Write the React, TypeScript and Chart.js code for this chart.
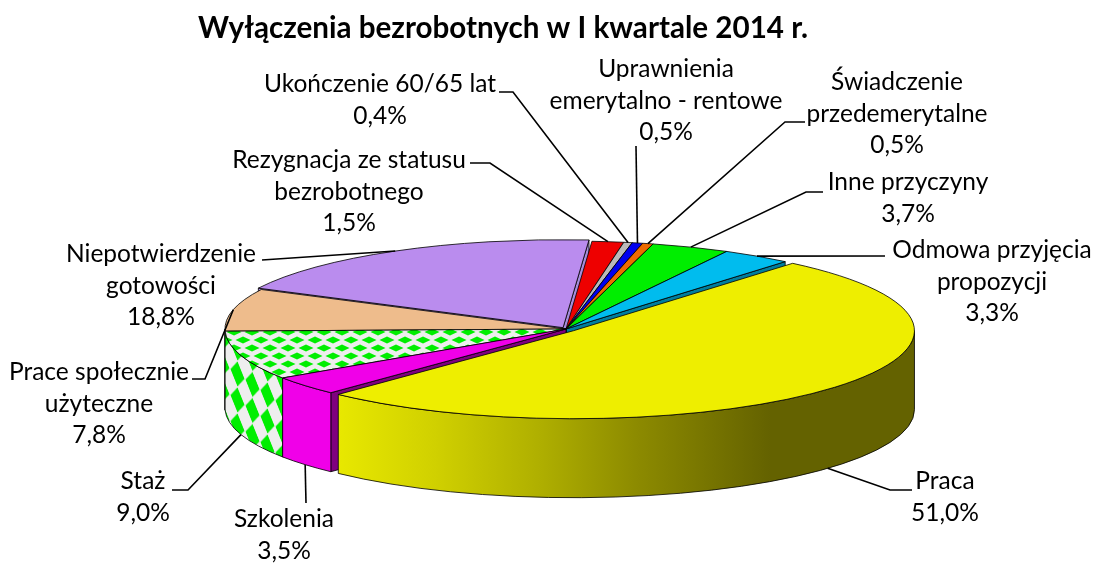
import React, { useEffect, useRef } from "react";
import { Chart, registerables } from "chart.js";

Chart.register(...registerables);

const TITLE = "Wyłączenia bezrobotnych w I kwartale 2014 r.";
const categories: string[][] = [
  ["Praca"],
  ["Szkolenia"],
  ["Staż"],
  ["Prace społecznie", "użyteczne"],
  ["Niepotwierdzenie", "gotowości"],
  ["Rezygnacja ze statusu", "bezrobotnego"],
  ["Ukończenie 60/65 lat"],
  ["Uprawnienia", "emerytalno - rentowe"],
  ["Świadczenie", "przedemerytalne"],
  ["Inne przyczyny"],
  ["Odmowa przyjęcia", "propozycji"],
];
const values = [51.0, 3.5, 9.0, 7.8, 18.8, 1.5, 0.4, 0.5, 0.5, 3.7, 3.3];
const explode = [10, 0, 0, 0, 6, 0, 0, 0, 0, 0, 0];

const topColors: (string | null)[] = [
  "#EEEE00", "#F000E8", null, "#EEBC8C", "#BA8CEE", "#EE0000",
  "#BABABA", "#0000EE", "#EE6A00", "#00EE00", "#00BCEE",
];
const faceColors = [
  "#7F7F00", "#7F007F", "#888888", "#9C7044", "#A68CDC", "#8F0000",
  "#777777", "#00008F", "#8F4000", "#008F00", "#007E9E",
];

// Label layout: text centre x, first line centre y, then the elbow of the leader line (outer point, inner point).
const labelLayout = [
  { cx: 945, y: 481, from: [912, 490], elbow: [890, 490] },
  { cx: 284, y: 519, from: [306, 503], elbow: [306, 503] },
  { cx: 143, y: 481, from: [172, 490], elbow: [188, 490] },
  { cx: 99, y: 372, from: [192, 379], elbow: [205, 379] },
  { cx: 161, y: 254, from: [262, 260], elbow: [262, 260] },
  { cx: 349, y: 160, from: [470, 163], elbow: [490, 163] },
  { cx: 380, y: 84, from: [499, 92], elbow: [513, 92] },
  { cx: 666, y: 69, from: [636, 146], elbow: [636, 146] },
  { cx: 897, y: 82, from: [805, 122], elbow: [785, 122] },
  { cx: 908, y: 182, from: [823, 192], elbow: [806, 192] },
  { cx: 992, y: 250, from: [885, 256], elbow: [885, 256] },
];

const W = 1097;
const H = 563;
const RADIUS = 341;
const TILT = 0.258;
const DEPTH = 79;
const LINE_H = 31.6;
const FONT = "Lato, 'Open Sans', sans-serif";

function tilePattern(w: number, h: number, hw: number, hh: number, pts: number[][]) {
  const c = document.createElement("canvas");
  c.width = w;
  c.height = h;
  const g = c.getContext("2d")!;
  g.fillStyle = "#EEEEEE";
  g.fillRect(0, 0, w, h);
  g.fillStyle = "#00EE00";
  for (const [x, y] of pts) {
    g.beginPath();
    g.moveTo(x - hw, y);
    g.lineTo(x, y - hh);
    g.lineTo(x + hw, y);
    g.lineTo(x, y + hh);
    g.closePath();
    g.fill();
  }
  return g.createPattern(c, "repeat")!;
}

const pie3dPlugin = {
  id: "pie3d",
  beforeDatasetDraw(chart: any) {
    const ctx: CanvasRenderingContext2D = chart.ctx;
    const arcs: any[] = chart.getDatasetMeta(0).data;
    const wallPattern = (chart.options.plugins.pie3d as any).wallPattern;

    const geo = arcs.map((a, i) => {
      const mid = (a.startAngle + a.endAngle) / 2;
      const off = a.options.offset || 0;
      return {
        i,
        mid,
        t0: a.startAngle,
        t1: a.endAngle,
        r: a.outerRadius,
        x: a.x + off * Math.cos(mid),
        y: a.y + TILT * off * Math.sin(mid),
        off,
      };
    });
    const at = (g: any, t: number) => ({
      x: g.x + g.r * Math.cos(t),
      y: g.y + TILT * g.r * Math.sin(t),
    });

    ctx.save();
    ctx.lineJoin = "round";
    ctx.strokeStyle = "rgba(0,0,0,0.8)";
    ctx.lineWidth = 1;

    // walls first, back to front; front exploded slices last
    const sortKey = (g: any) => {
      const s = Math.sin(g.mid);
      return s > 0 ? s + g.off * 0.01 : s;
    };
    const order = [...geo].sort((p, q) => sortKey(p) - sortKey(q));
    for (const g of order) {
      for (const [t, visible] of [
        [g.t0, Math.cos(g.t0) < 0],
        [g.t1, Math.cos(g.t1) > 0],
      ] as [number, boolean][]) {
        if (!visible) continue;
        const p = at(g, t);
        ctx.beginPath();
        ctx.moveTo(g.x, g.y);
        ctx.lineTo(p.x, p.y);
        ctx.lineTo(p.x, p.y + DEPTH);
        ctx.lineTo(g.x, g.y + DEPTH);
        ctx.closePath();
        ctx.fillStyle = faceColors[g.i];
        ctx.fill();
        ctx.stroke();
      }
      const a = Math.max(g.t0, 0);
      const b = Math.min(g.t1, Math.PI);
      if (b > a) {
        const pa = at(g, a);
        const pb = at(g, b);
        ctx.beginPath();
        ctx.ellipse(g.x, g.y, g.r, TILT * g.r, 0, a, b, false);
        ctx.lineTo(pb.x, pb.y + DEPTH);
        ctx.ellipse(g.x, g.y + DEPTH, g.r, TILT * g.r, 0, b, a, true);
        ctx.closePath();
        if (g.i === 0) {
          const grad = ctx.createLinearGradient(pb.x, 0, pa.x, 0);
          grad.addColorStop(0, "#E8E800");
          grad.addColorStop(0.17, "#D0D000");
          grad.addColorStop(0.345, "#B0B000");
          grad.addColorStop(0.52, "#8C8A00");
          grad.addColorStop(0.75, "#646200");
          grad.addColorStop(1, "#646200");
          ctx.fillStyle = grad;
        } else if (g.i === 2) {
          ctx.fillStyle = wallPattern;
        } else {
          ctx.fillStyle = arcs[g.i].options.backgroundColor;
        }
        ctx.fill();
        ctx.stroke();
      }
    }

    // top faces
    for (const g of order) {
      ctx.beginPath();
      ctx.moveTo(g.x, g.y);
      ctx.ellipse(g.x, g.y, g.r, TILT * g.r, 0, g.t0, g.t1, false);
      ctx.closePath();
      ctx.fillStyle = arcs[g.i].options.backgroundColor;
      ctx.fill();
      ctx.stroke();
    }
    ctx.restore();

    // leaders and labels
    ctx.save();
    ctx.strokeStyle = "#000";
    ctx.lineWidth = 1.6;
    ctx.fillStyle = "#000";
    ctx.font = `24.5px ${FONT}`;
    ctx.textAlign = "center";
    ctx.textBaseline = "middle";
    geo.forEach((g) => {
      const layout = labelLayout[g.i];
      const rim = at(g, g.mid);
      const sinM = Math.sin(g.mid);
      const endY = sinM > 0 ? rim.y + DEPTH : rim.y;
      ctx.beginPath();
      ctx.moveTo(layout.from[0], layout.from[1]);
      ctx.lineTo(layout.elbow[0], layout.elbow[1]);
      ctx.lineTo(rim.x, endY);
      ctx.stroke();
      const lines = [
        ...categories[g.i],
        values[g.i].toFixed(1).replace(".", ",") + "%",
      ];
      lines.forEach((line, n) => {
        ctx.fillText(line, layout.cx, layout.y + n * LINE_H);
      });
    });
    ctx.font = `bold 29.6px ${FONT}`;
    ctx.fillText(TITLE, 503, 28);
    ctx.restore();
    return false;
  },
};

export default function App() {
  const ref = useRef<HTMLCanvasElement>(null);
  useEffect(() => {
    document.body.style.margin = "0";
    document.body.style.background = "#fff";
    const topPattern = tilePattern(18, 16, 7.5, 3.6, [
      [9, 4],
      [0, 12],
      [18, 12],
    ]);
    const wallPattern = tilePattern(15, 26, 7, 12.5, [[7.5, 13]]);
    wallPattern.setTransform(new DOMMatrix([1, 0.7, 0, 1, 5, 16.2]));
    const chart = new Chart(ref.current!, {
      type: "pie",
      data: {
        labels: categories.map((c) => c.join(" ")),
        datasets: [
          {
            data: values,
            backgroundColor: topColors.map((c) => c ?? topPattern) as any,
            offset: explode as any,
            borderWidth: 0,
            hoverOffset: 0,
          },
        ],
      },
      options: {
        responsive: false,
        animation: false,
        rotation: 40,
        radius: RADIUS,
        layout: { padding: { left: 35, right: 0, top: 95, bottom: 0 } },
        events: [],
        plugins: {
          legend: { display: false },
          tooltip: { enabled: false },
          title: { display: false },
          pie3d: { wallPattern },
        } as any,
      },
      plugins: [pie3dPlugin as any],
    });
    return () => chart.destroy();
  }, []);
  return (
    <div style={{ position: "absolute", left: 0, top: 0, width: W, height: H, background: "#fff" }}>
      <canvas ref={ref} width={W} height={H} style={{ display: "block" }} />
    </div>
  );
}
